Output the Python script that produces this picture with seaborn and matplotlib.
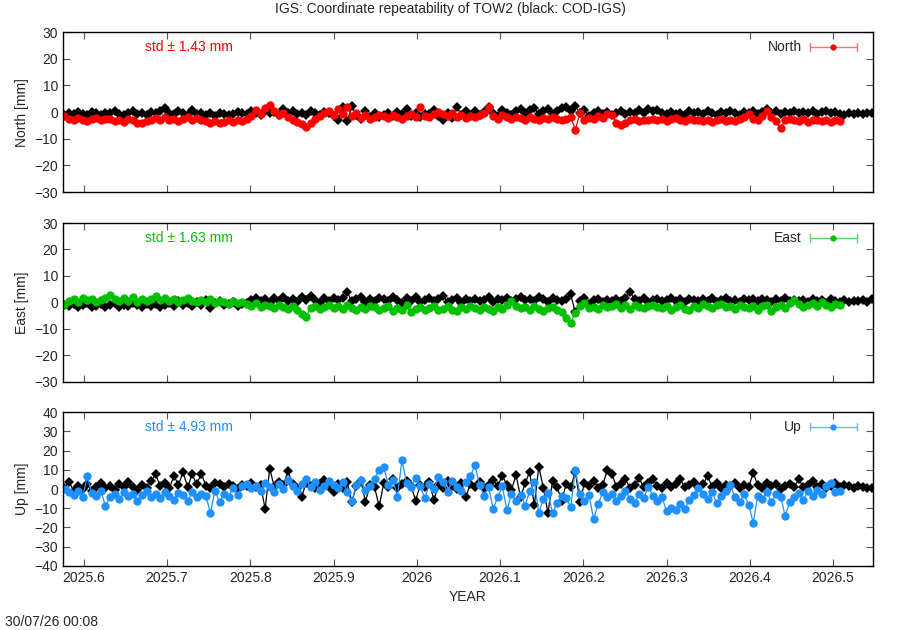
import numpy as np
import pandas as pd
import seaborn as sns
import matplotlib.pyplot as plt

# Daily solutions every 2nd day, values in mm
START = "2025-07-30"
N_REF = 178   # COD-IGS (black)
N_STA = 171   # station series (coloured)

north_ref = [
    -1.2, -0.3, -0.8, 0.2, -0.6, -1.0, 0.0, -0.5, -0.9, -0.2,
    -0.4, 0.3, -0.7, -1.1, -0.2, 0.5, -0.6, -0.3, -1.0, 0.1,
    -0.5, 0.4, 1.6, -0.3, -0.8, 0.6, -0.4, -1.2, 0.9, -0.6,
    -0.2, -1.0, -0.5, -1.4, -0.3, -0.8, -1.1, -0.6, 0.2, -0.4,
    -0.6, 0.3, -0.2, -0.9, 0.6, -0.4, 0.2, -1.0, 1.1, -0.3,
    0.4, -0.6, -0.2, -1.2, 0.3, -0.5, -0.9, 0.1, -0.4, -1.4,
    -2.8, 1.8, -3.2, 2.2, -1.0, -2.5, 0.6, -1.8, -0.3, -2.0,
    -1.2, -0.5, -1.6, 0.2, -0.8, 1.2, -1.4, -0.3, -1.9, -0.7,
    -0.6, 0.8, -1.5, -3.0, -0.4, -2.2, 1.9, -0.9, 0.4, -1.3,
    0.6, -1.1, 0.2, 1.8, -0.5, -1.6, 0.9, -0.2, -1.2, 0.4,
    1.2, -0.4, 0.8, 1.6, -0.8, 0.3, 1.0, -0.6, 0.5, 1.4,
    1.8, 0.4, 2.2, -0.3, 0.9, -1.5, -0.2, 0.6, -0.8, 0.1,
    -0.9, -0.3, 0.4, -0.6, 0.2, -0.2, 0.7, -0.5, 1.0, 0.3,
    0.8, -0.4, -0.8, 0.1, -0.6, -0.2, -1.0, 0.3, -0.5, 0.0,
    -0.7, 0.4, -0.3, -0.9, 0.1, -0.5, 0.6, -0.2, -1.0, 0.2,
    -0.3, 0.5, -0.6, 0.2, 1.0, -0.4, 0.3, -0.8, 0.1, -0.2,
    0.4, -0.5, 0.2, -0.3, 0.6, -0.7, 0.0, 0.3, -0.4, -0.1,
    -0.6, -0.9, -0.3, -0.8, -0.5, -0.7, -0.4, -0.5,
]
north_sta = [
    -1.5, -2.4, -3.0, -2.1, -2.8, -3.4, -2.6, -2.2, -3.1, -2.7,
    -2.4, -3.2, -2.8, -3.6, -2.5, -3.0, -3.9, -4.2, -3.3, -2.9,
    -2.2, -2.9, -1.8, -3.1, -2.6, -3.4, -2.5, -2.0, -3.0, -2.3,
    -2.8, -3.5, -3.9, -3.2, -4.1, -3.6, -3.0, -3.8, -2.9, -3.4,
    -2.6, -1.5, 0.8, -0.6, 1.4, 2.6, 0.3, -1.2, -0.4, -2.0,
    -2.8, -3.6, -4.6, -5.6, -3.9, -2.4, -1.5, -0.2, 0.6, -1.0,
    1.2, -0.8, 1.8, -1.6, -0.5, -2.3, -1.2, -2.6, -1.8, -0.9,
    -1.4, -2.2, -1.0, -1.9, -2.5, -1.3, -0.7, -1.8, 2.0, -1.5,
    -2.0, -0.8, 0.2, -0.6, -1.3, -0.3, -1.7, -1.0, -2.1, -1.4,
    -1.8, -1.0, -0.4, 2.1, -1.6, -2.4, -1.2, -2.0, -2.6, -1.7,
    -2.3, -2.8, -1.9, -2.6, -3.0, -2.2, -2.7, -1.8, -2.5, -3.1,
    -2.4, -1.9, -6.6, -0.5, -2.8, -2.1, -2.6, -1.6, -2.2, -0.8,
    -1.0, -3.9, -4.8, -4.2, -3.1, -2.6, -3.3, -2.8, -3.0, -2.4,
    -2.9, -2.5, -3.2, -2.7, -2.2, -3.0, -3.4, -2.6, -2.9, -3.1,
    -3.3, -2.8, -3.6, -3.0, -2.7, -3.5, -2.9, -3.2, -2.5, -2.0,
    -0.6, -2.4, -2.9, -1.5, 0.4, -1.8, -3.4, -6.0, -3.1, -2.6,
    -2.9, -3.3, -2.7, -3.6, -3.0, -2.8, -3.4, -3.1, -3.7, -3.0,
    -3.2,
]

east_ref = [
    -0.8, -1.5, -0.5, -1.9, -1.0, -0.3, -1.6, -1.2, -0.6, -1.8,
    -1.1, -0.4, -1.7, -0.9, -1.4, -0.2, -1.0, -1.6, -0.7, -1.3,
    -0.5, -1.8, -0.8, -0.2, -1.4, 0.6, -1.0, -0.4, -1.5, 0.3,
    -0.9, 0.8, -2.2, -0.3, 0.5, -1.1, -0.6, 0.2, -1.4, -0.7,
    -0.2, 0.9, 1.8, 0.4, 1.2, -0.3, 1.6, 0.7, 2.2, 0.5,
    1.4, 0.2, 1.9, 0.8, 2.4, 1.0, -0.2, 1.5, 0.6, 1.8,
    0.9, 1.6, 3.8, 0.5, 1.3, 2.0, 0.1, 1.1, 0.7, 1.7,
    1.2, 0.4, 2.1, 0.9, -0.3, 1.5, 0.6, 1.9, 0.2, 1.0,
    1.7, 0.5, 1.1, 2.3, 0.3, 0.9, 1.6, -0.2, 1.2, 0.7,
    1.4, 0.6, 1.0, 2.0, 0.2, 1.3, 0.8, 1.7, 0.4, 1.1,
    1.9, 0.9, 1.4, 0.5, 2.2, 1.1, 0.3, 1.6, 1.0, 0.6,
    1.2, 3.0, -3.8, 0.7, 1.5, -0.5, 0.8, 1.3, 0.2, 1.0,
    0.6, 1.2, 0.4, 1.8, 4.0, 1.1, 0.7, 1.5, 0.3, 1.0,
    1.3, 0.5, 1.0, 1.8, 0.6, 1.2, 0.2, 1.4, 0.9, 0.5,
    1.1, 0.7, 1.5, 0.3, 1.0, 1.6, 0.6, 0.9, 0.2, 1.3,
    0.8, 1.2, 0.4, 1.4, 0.9, 0.3, 1.1, 0.7, 1.5, 0.5,
    1.0, 0.4, 0.9, 0.2, 1.3, 0.6, 0.8, -0.2, 1.1, 0.5,
    0.3, 0.9, 0.1, 0.7, 0.4, 0.8, 0.2, 1.2,
]
east_sta = [
    -1.0, 0.5, 1.2, 0.3, 1.6, 0.8, 1.4, 0.2, 1.0, 1.8,
    2.9, 1.2, 0.4, 1.5, 0.7, 1.9, 0.3, 1.1, 0.6, 1.4,
    2.5, 1.0, 1.8, 0.4, 1.2, 0.2, 0.9, 1.5, 0.6, 0.0,
    0.8, 0.3, 1.1, -0.2, 0.6, 0.0, -0.7, 0.4, -0.4, 0.2,
    -0.6, -1.2, -0.3, -1.8, -0.9, -1.5, -2.2, -1.0, -1.7, -2.6,
    -1.4, -2.9, -4.2, -5.4, -2.0, -1.3, -2.4, -1.6, -0.8, -2.1,
    -1.5, -2.6, -1.0, -2.2, -3.0, -1.7, -2.5, -1.2, -1.9, -2.8,
    -2.3, -1.4, -3.2, -2.0, -2.7, -1.1, -3.5, -2.4, -1.8, -2.9,
    -2.2, -1.5, -3.0, -2.5, -1.2, -2.8, -3.4, -1.9, -2.6, -1.3,
    -2.0, -2.9, -1.6, -2.4, -3.1, -1.8, -2.6, -1.1, 0.4, -1.5,
    -2.3, -1.7, -2.8, -1.2, -2.5, -3.2, -2.0, -1.6, -2.7, -3.6,
    -5.8, -7.6, -4.0, -1.2, -0.3, -2.1, -1.6, -2.4, -1.0, -1.8,
    -1.4, -0.6, -2.0, -1.1, -2.5, -0.8, -1.7, -2.2, -1.3, -0.9,
    -1.6, -2.3, -1.2, -2.8, -1.9, -1.0, -2.5, -3.0, -1.5, -2.1,
    -0.7, -1.5, -2.2, -1.0, -0.5, -1.8, -1.3, -2.4, -0.9, -1.6,
    -2.0, -1.2, -2.7, -1.5, -0.8, -3.4, -1.9, -1.1, -2.3, -0.4,
    1.0, -0.5, -1.8, -1.0, -0.3, -1.4, 0.2, -0.8, -1.6, -0.6,
    -1.0,
]

up_ref = [
    0.5, 3.8, -0.8, 1.5, 0.2, 2.4, -1.2, 1.0, 3.0, 0.6,
    1.8, -0.5, 2.6, 0.9, 3.4, 1.2, -0.3, 2.0, 0.7, 4.0,
    7.6, 1.5, 3.0, 0.4, 6.8, 2.2, 8.8, 1.0, 7.6, 2.5,
    8.0, 1.8, 0.6, 3.2, 2.4, 0.9, 2.8, 1.4, -0.2, 2.0,
    1.6, 3.0, 0.8, 2.2, -10.4, 10.6, 1.2, 3.5, 2.0, 9.4,
    2.6, 0.5, -4.0, 3.2, 1.8, 0.3, 2.4, 4.5, 1.0, -1.5,
    2.8, 0.6, 3.5, -6.6, 1.4, 4.2, -6.6, 2.0, 0.8, -9.0,
    3.0, 1.2, 5.0, 0.4, 2.6, 4.0, 1.5, -6.0, 2.2, 0.8,
    3.5, -5.7, 2.0, 0.6, 4.2, 1.8, 0.2, 3.0, -4.0, 2.5,
    1.0, 3.8, 0.3, 2.2, 4.6, 1.5, 7.0, 2.0, -0.5, 7.2,
    -4.2, 3.0, 9.0, -8.5, 11.6, 0.5, -12.4, 4.0, 1.2, -6.0,
    2.5, 0.8, 9.0, -6.6, 3.0, 1.5, 4.4, 0.6, 2.0, 9.8,
    8.0, 1.2, 2.8, 5.0, 0.4, 2.2, 5.6, 1.0, 3.0, 5.0,
    1.8, 0.5, 3.0, 1.2, 2.5, 5.0, 0.8, 2.0, 3.4, 1.0,
    2.4, 6.8, 1.0, 3.0, 0.4, 2.0, 1.4, 3.2, 0.6, 2.2,
    1.0, 8.4, 2.0, 0.5, 3.0, 1.5, 2.6, 0.2, 1.8, 2.8,
    1.2, 5.0, 0.8, 2.0, 4.0, 1.0, 2.4, 0.3, 1.6, 3.0,
    0.8, 2.0, 1.4, 0.4, 1.8, 1.0, 0.6, 0.5,
]
up_sta = [
    0.2, -1.5, -3.0, -0.8, -4.2, 6.6, -2.0, -3.6, -1.2, -8.8,
    -4.0, -2.5, -5.2, -1.6, -3.8, -2.8, -6.0, -3.2, -1.0, -4.4,
    -2.6, -4.8, -1.5, -3.4, -5.6, -2.2, -3.0, -6.2, -1.8, -4.0,
    -2.8, -3.5, -12.4, -1.0, -6.6, -2.5, -4.2, 0.5, -3.0, 1.8,
    2.4, 0.6, 1.5, -0.8, 3.2, 1.0, -1.6, 2.8, 0.2, 4.6,
    1.4, -1.2, 2.6, 5.2, 0.8, 3.4, -0.5, 1.8, 4.2, 2.0,
    0.4, 3.6, -1.4, -6.4, 2.2, 4.8, -0.6, 1.6, 5.4, 10.0,
    11.4, 2.0, 4.6, -4.0, 15.2, 3.0, 0.8, 5.6, 1.4, -4.8,
    2.6, 0.2, 6.0, 3.4, -1.6, 4.2, 1.0, -0.8, 3.8, 6.6,
    12.4, 2.0, -3.5, 0.8, -10.4, -4.2, 1.6, -11.0, -2.6, -6.0,
    -3.0, -8.6, -1.2, 3.8, -12.4, -5.0, -2.0, -12.6, -7.4, -3.6,
    -4.8, -9.2, 9.8, -2.4, -6.0, -3.0, -15.6, -8.0, -1.6, -4.4,
    -2.6, -6.2, -3.8, -1.0, -5.4, -7.2, -2.8, -4.6, 1.2, -3.4,
    -6.0, -4.2, -11.6, -9.8, -11.0, -7.8, -10.4, -5.6, -3.2, 0.6,
    -2.4, -5.0, -1.6, -7.2, -3.8, -0.8, 2.0, -4.4, -6.6, -2.8,
    -8.2, -17.6, -3.6, -5.2, -1.4, -6.8, -2.6, -4.0, -13.8, -7.0,
    -4.2, -2.0, -5.6, -1.2, -3.4, -0.4, -2.8, 1.4, 3.0, -1.6,
    -0.8,
]

components = ["North", "East", "Up"]
colors = ["#ff0000", "#00c000", "#1e90ff"]
legend_colors = ["#ff7070", "#60d060", "#70b0ff"]
std_text = ["std \u00b1 1.43 mm", "std \u00b1 1.63 mm", "std \u00b1 4.93 mm"]
ylims = [(-30, 30), (-30, 30), (-40, 40)]
xticks = [2025.6, 2025.7, 2025.8, 2025.9, 2026.0, 2026.1, 2026.2, 2026.3, 2026.4, 2026.5]
xticklabels = ["2025.6", "2025.7", "2025.8", "2025.9", "2026", "2026.1",
               "2026.2", "2026.3", "2026.4", "2026.5"]


def decimal_year(n):
    d = pd.date_range(START, periods=n, freq="2D")
    return (d.year + (d.dayofyear - 0.5) / 365.0).to_numpy()


def main():
    sns.set_theme(style="ticks")
    plt.rcParams["font.family"] = ["Liberation Sans", "DejaVu Sans"]
    plt.rcParams["font.size"] = 10

    t_ref = decimal_year(N_REF)
    t_sta = decimal_year(N_STA)
    refs = [north_ref, east_ref, up_ref]
    stas = [north_sta, east_sta, up_sta]

    fig = plt.figure(figsize=(9, 6.3), dpi=100)
    boxes = [(0.070, 0.695, 0.900, 0.254),
             (0.070, 0.394, 0.900, 0.252),
             (0.070, 0.1016, 0.900, 0.2444)]

    for i, comp in enumerate(components):
        ax = fig.add_axes(boxes[i])
        df_ref = pd.DataFrame({"t": t_ref, "v": refs[i]})
        df_sta = pd.DataFrame({"t": t_sta, "v": stas[i]})
        sns.lineplot(data=df_ref, x="t", y="v", ax=ax, color="black", lw=0.9,
                     marker="D", markersize=5.5, markeredgewidth=0, sort=False)
        sns.lineplot(data=df_sta, x="t", y="v", ax=ax, color=colors[i], lw=0.9,
                     marker="o", markersize=6, markeredgewidth=0, sort=False)

        ax.set_xlim(2025.575, 2026.548)
        ax.set_ylim(*ylims[i])
        ax.set_yticks(np.arange(ylims[i][0], ylims[i][1] + 1, 10))
        ax.set_xticks(xticks)
        if i == 2:
            ax.set_xticklabels(xticklabels)
            ax.set_xlabel("YEAR", fontsize=10)
        else:
            ax.set_xticklabels([])
            ax.set_xlabel("")
        ax.set_ylabel(f"{comp} [mm]", fontsize=10, labelpad=4)
        ax.tick_params(direction="in", length=5, width=0.8, top=True, right=True,
                       labelsize=10, color="#555555")
        for s in ax.spines.values():
            s.set_linewidth(1.0)
            s.set_color("black")

        ax.text(0.101, 0.905, std_text[i], transform=ax.transAxes, color=colors[i],
                fontsize=10, va="center", ha="left")
        # key: label plus errorbar-like symbol
        ax.text(0.912, 0.905, comp, transform=ax.transAxes, fontsize=10,
                va="center", ha="right")
        ax.plot([0.922, 0.980], [0.905, 0.905], transform=ax.transAxes,
                color=legend_colors[i], lw=1.0)
        for cx in (0.922, 0.980):
            ax.plot([cx, cx], [0.88, 0.93], transform=ax.transAxes,
                    color=legend_colors[i], lw=1.0)
        ax.plot([0.951], [0.905], transform=ax.transAxes, marker="o",
                markersize=4.5, color=colors[i], markeredgewidth=0)

    fig.text(0.5, 0.985, "IGS: Coordinate repeatability of TOW2 (black: COD-IGS)",
             ha="center", va="center", fontsize=10)
    fig.text(0.006, 0.012, "30/07/26 00:08", ha="left", va="center", fontsize=10)

    fig.savefig("out.png", dpi=100)


if __name__ == "__main__":
    main()
